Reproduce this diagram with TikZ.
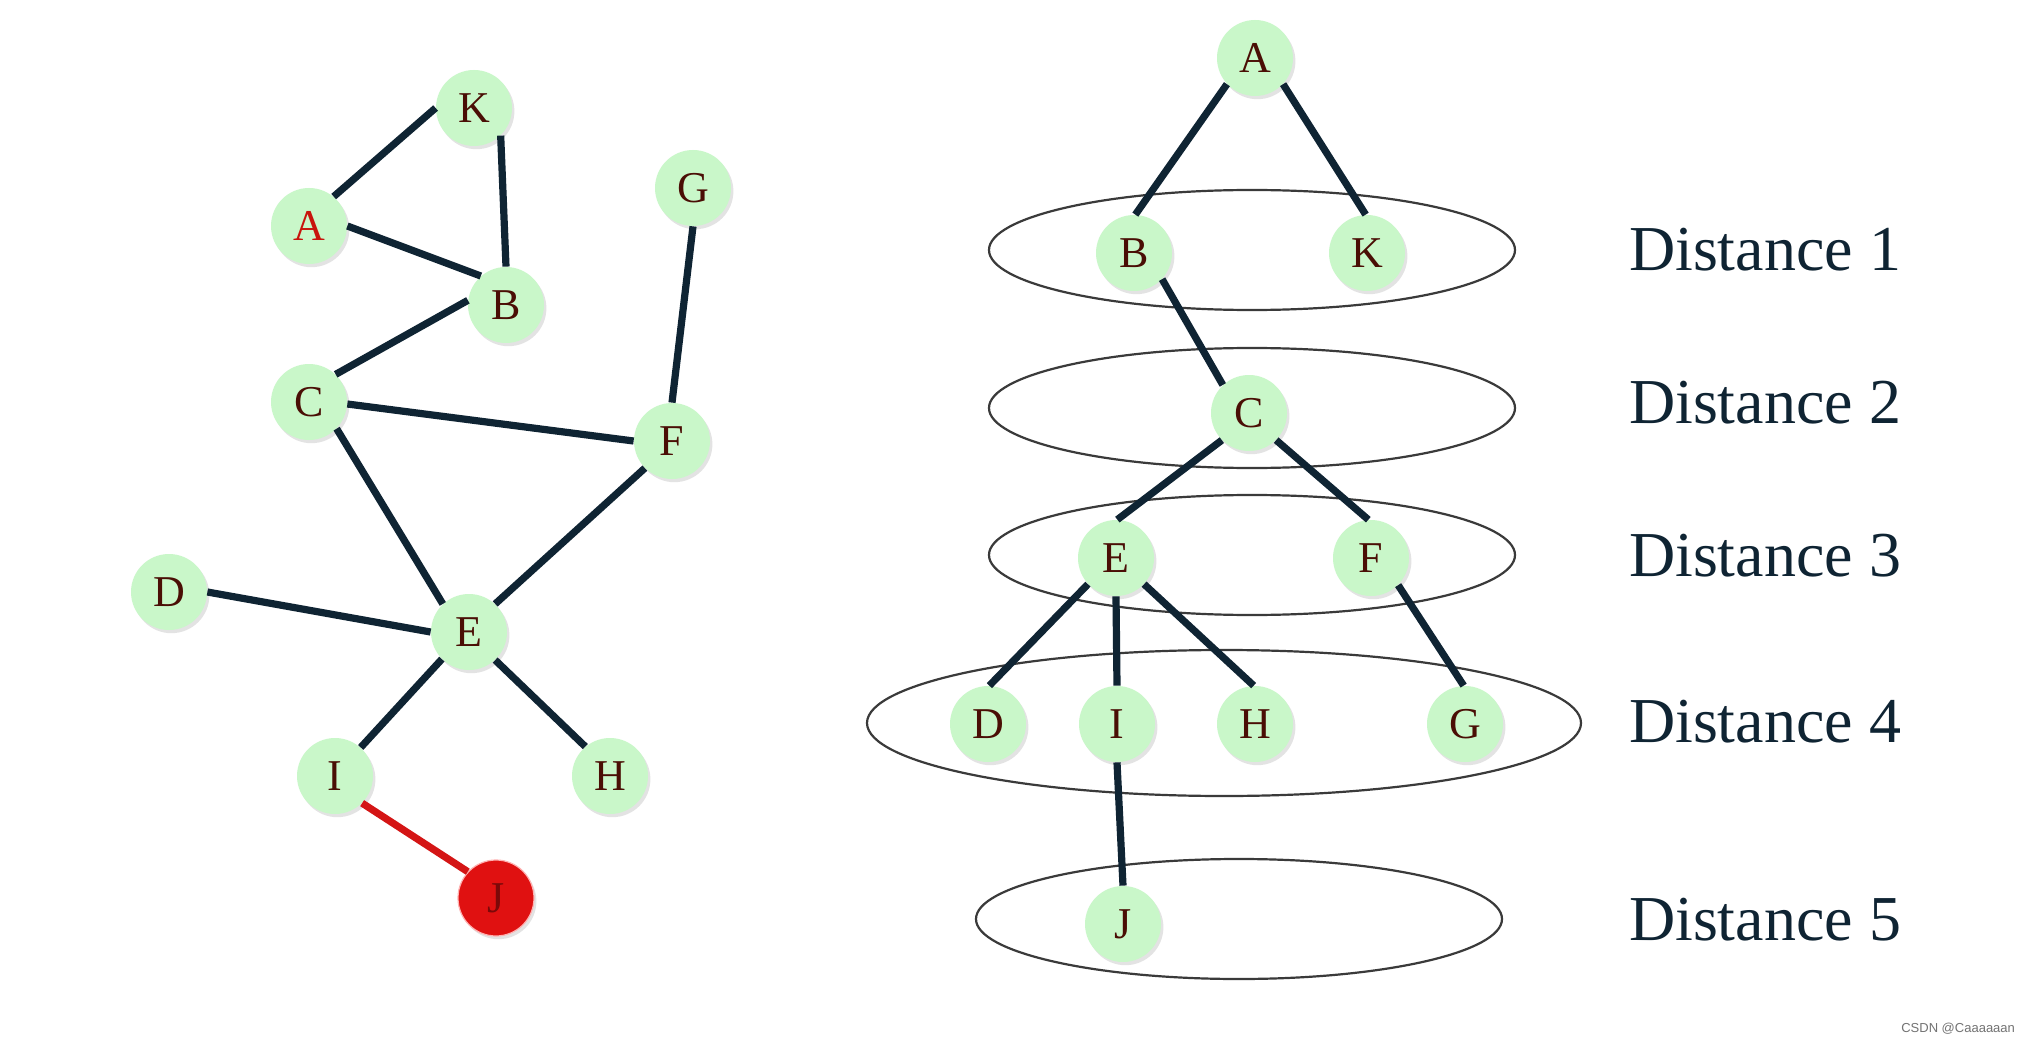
\documentclass[tikz,border=0pt]{standalone}
\usepackage{fontspec}
\setmainfont{Liberation Serif}
\newfontfamily\wmfont{Liberation Sans}
\usetikzlibrary{shadows}
\definecolor{edgecol}{HTML}{0F2433}
\definecolor{nodefill}{HTML}{C9F7C9}
\definecolor{nodetext}{HTML}{4A0E05}
\definecolor{redtext}{HTML}{C8140C}
\definecolor{jfill}{HTML}{E01111}
\definecolor{jedge}{HTML}{D41515}
\definecolor{ellcol}{HTML}{3A3A3A}
\definecolor{labcol}{HTML}{0F2433}
\begin{document}
\begin{tikzpicture}[x=0.5pt,y=-0.5pt,
  vnode/.style={circle, fill=nodefill, minimum size=38pt, inner sep=0pt,
    font=\fontsize{22}{22}\selectfont, text=nodetext,
    drop shadow={opacity=0.22, shadow xshift=1.2pt, shadow yshift=-1.6pt}},
  jnode/.style={vnode, fill=jfill, draw=red!30, line width=0.6pt, text=jfill!55!black},
  edge/.style={draw=edgecol, line width=3.6pt},
  redge/.style={draw=jedge, line width=3.6pt},
  ring/.style={draw=ellcol, line width=1.1pt},
  dlabel/.style={font=\fontsize{32}{32}\selectfont, text=labcol, anchor=west}]
\useasboundingbox (0,0) rectangle (2035,1043);
\fill[white] (0,0) rectangle (2035,1043);

% ---------- left graph ----------
\node[vnode] (lK) at (474,108) {K};
\node[vnode, text=redtext] (lA) at (309,226) {A};
\node[vnode] (lB) at (506,305) {B};
\node[vnode] (lG) at (693,188) {G};
\node[vnode] (lC) at (309,402) {C};
\node[vnode] (lF) at (672,441) {F};
\node[vnode] (lD) at (169,592) {D};
\node[vnode] (lE) at (469,632) {E};
\node[vnode] (lI) at (335,776) {I};
\node[vnode] (lH) at (610,776) {H};
\node[jnode] (lJ) at (496,898) {J};

\path[edge] (lA.50) -- (lK.180);
\path[edge] (lK.-46) -- (lB.90);
\path[edge] (lA.0) -- (lB.131);
\path[edge] (lB.173) -- (lC.46);
\path[edge] (lG.-90) -- (lF.90);
\path[edge] (lC.-3) -- (lF.180);
\path[edge] (lC.-44) -- (lE.133);
\path[edge] (lF.-135) -- (lE.47);
\path[edge] (lD.0) -- (lE.180);
\path[edge] (lE.-135) -- (lI.48);
\path[edge] (lE.-47) -- (lH.130);
\path[redge] (lI.-45) -- (lJ.137);

% ---------- right tree ----------
\draw[ring] (1252,250) ellipse [x radius=131.5pt, y radius=30pt];
\draw[ring] (1252,408) ellipse [x radius=131.5pt, y radius=30pt];
\draw[ring] (1252,555) ellipse [x radius=131.5pt, y radius=30pt];
\draw[ring] (1224,723) ellipse [x radius=178.5pt, y radius=36.5pt];
\draw[ring] (1239,919) ellipse [x radius=131.5pt, y radius=30pt];

\node[vnode] (rA) at (1255,58) {A};
\node[vnode] (rB) at (1134,253) {B};
\node[vnode] (rK) at (1367,253) {K};
\node[vnode] (rC) at (1249,413) {C};
\node[vnode] (rE) at (1116,558) {E};
\node[vnode] (rF) at (1371,558) {F};
\node[vnode] (rD) at (988,724) {D};
\node[vnode] (rI) at (1117,724) {I};
\node[vnode] (rH) at (1255,724) {H};
\node[vnode] (rG) at (1465,724) {G};
\node[vnode] (rJ) at (1123,924) {J};

\path[edge] (rA.-137) -- (rB.88);
\path[edge] (rA.-43) -- (rK.92);
\path[edge] (rB.-43) -- (rC.133);
\path[edge] (rC.-135) -- (rE.88);
\path[edge] (rC.-45) -- (rF.94);
\path[edge] (rE.-137) -- (rD.88);
\path[edge] (rE.-90) -- (rI.90);
\path[edge] (rE.-43) -- (rH.92);
\path[edge] (rF.-45) -- (rG.92);
\path[edge] (rI.-90) -- (rJ.90);

% labels
\node[dlabel] (d1) at (1622,250) {Distance 1};
\node[dlabel] (d2) at (1622,403) {Distance 2};
\node[dlabel] (d3) at (1622,556) {Distance 3};
\node[dlabel] (d4) at (1622,722) {Distance 4};
\node[dlabel] (d5) at (1622,920) {Distance 5};

\node[font=\wmfont\fontsize{6.5}{6.5}\selectfont, text=black!55, anchor=east] (wm) at (2022,1029) {CSDN @Caaaaaan};
\end{tikzpicture}
\end{document}
